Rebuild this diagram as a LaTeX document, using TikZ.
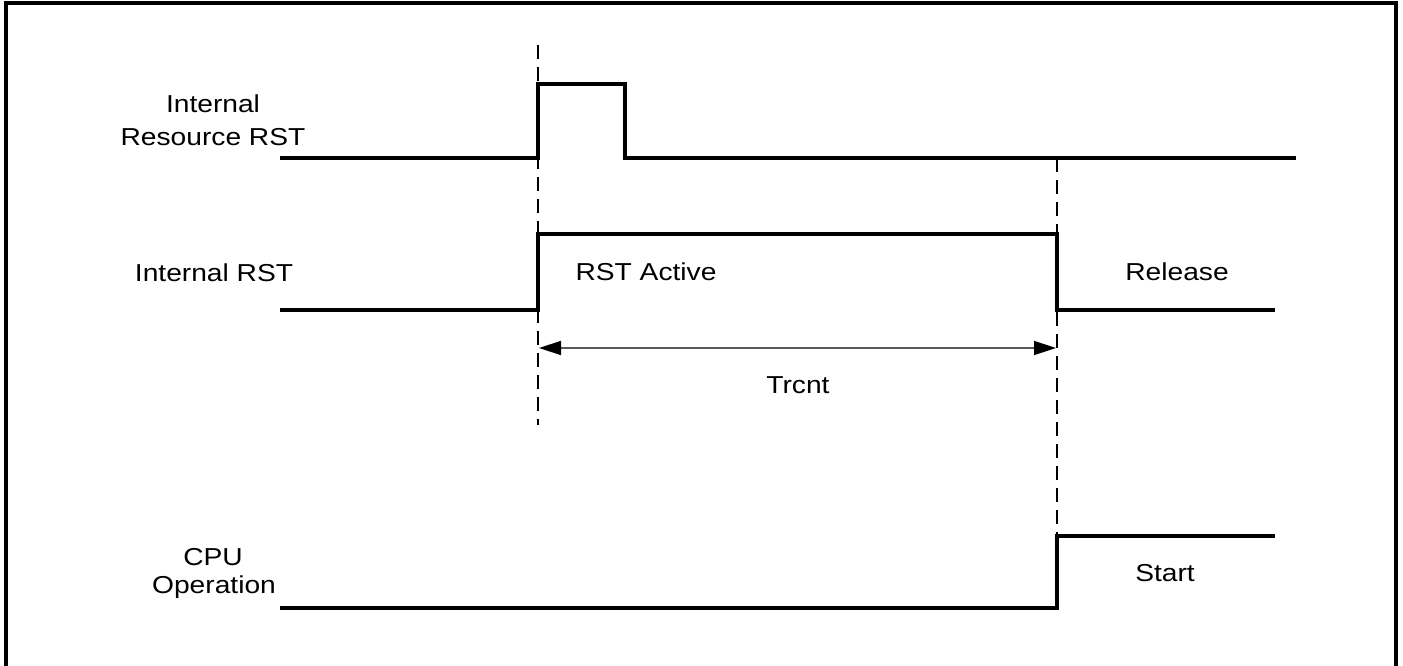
\documentclass[tikz,border=0pt]{standalone}
\usepackage{fontspec}
\setmainfont{Liberation Sans}[FakeStretch=1.15]
\usetikzlibrary{arrows.meta}
\begin{document}
\begin{tikzpicture}[x=1pt,y=-1pt,
  sig/.style={line width=3.6pt,line join=miter},
  guide/.style={line width=2.2pt,dash pattern=on 14pt off 8pt},
  dim/.style={line width=1.5pt,draw={rgb,255:red,90;green,90;blue,90},
    {Triangle[length=22pt,width=14pt,color=black]}-{Triangle[length=22pt,width=14pt,color=black]}},
  lbl/.style={font=\fontsize{24.5}{29}\selectfont,inner sep=0pt,anchor=base}]
\useasboundingbox (0,0) rectangle (1403,666);
\draw[line width=3.5pt] (6,3) rectangle (1396,670);
% coordinates
\coordinate (t1) at (538,45);
\coordinate (b1) at (538,425);
\coordinate (t2) at (1057,158);
\coordinate (b2) at (1057,536);
% guide lines
\draw[guide] (t1) -- (b1);
\draw[guide] (t2) -- (b2);
% Internal Resource RST
\coordinate (r1s) at (280,158);
\coordinate (r1e) at (1296,158);
\draw[sig] (r1s) -- (538,158) -- (538,84) -- (625,84) -- (625,158) -- (r1e);
% Internal RST
\coordinate (r2s) at (280,310);
\coordinate (r2e) at (1275,310);
\draw[sig] (r2s) -- (538,310) -- (538,234) -- (1057,234) -- (1057,310) -- (r2e);
% CPU Operation
\coordinate (r3s) at (280,608);
\coordinate (r3e) at (1275,536);
\draw[sig] (r3s) -- (1057,608) -- (b2) -- (r3e);
% Trcnt arrow
\coordinate (a1) at (539,348);
\coordinate (a2) at (1056,348);
\draw[dim] (a1) -- (a2);
% labels
\node[lbl] (l1a) at (213,113) {Internal};
\node[lbl] (l1b) at (213,146) {Resource RST};
\node[lbl] (l2) at (214,281) {Internal RST};
\node[lbl] (act) at (646,280) {RST Active};
\node[lbl] (rel) at (1177,280) {Release};
\node[lbl] (tr) at (798,393) {Trcnt};
\node[lbl] (l3a) at (213,565) {CPU};
\node[lbl] (l3b) at (214,593) {Operation};
\node[lbl] (st) at (1165,581) {Start};
\end{tikzpicture}
\end{document}
